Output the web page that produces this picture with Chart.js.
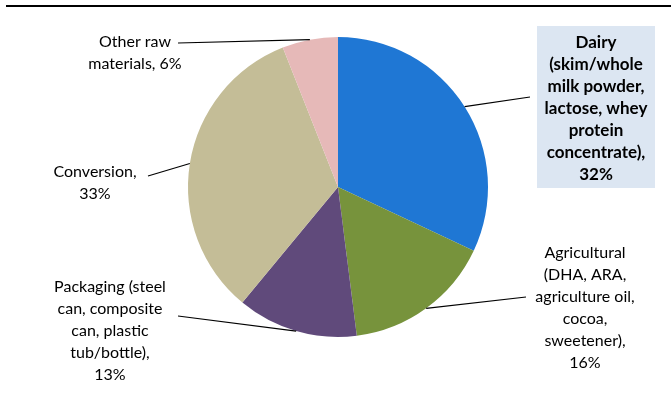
<!DOCTYPE html>
<html>
<head>
<meta charset="utf-8">
<script src="https://cdn.jsdelivr.net/npm/chart.js@4.4.1/dist/chart.umd.min.js"></script>
<style>
  html, body { margin: 0; padding: 0; background: #fff; }
  #wrap { width: 671px; height: 406px; position: relative; }
</style>
</head>
<body>
<div id="wrap"><canvas id="pie"></canvas></div>
<script>
// Dados do gráfico
const categorias = [
    ['Dairy', '(skim/whole', 'milk powder,', 'lactose, whey', 'protein', 'concentrate),'],
    ['Agricultural', '(DHA, ARA,', 'agriculture oil,', 'cocoa,', 'sweetener),'],
    ['Packaging (steel', 'can, composite', 'can, plastic', 'tub/bottle),'],
    ['Conversion,'],
    ['Other raw', 'materials,']
];
const valores = [32, 16, 13, 33, 6];
const cores = ['#1F77D4', '#77933C', '#604A7B', '#C4BD97', '#E6B9B8'];

// Posição dos rótulos (centro do bloco de texto, primeira linha) e onde a linha guia começa
const rotulos = [
    { x: 596, y: 43, lx: 530, ly: 97, bold: true, caixa: { x: 537, y: 26, w: 118, h: 162 } },
    { x: 585, y: 253, lx: 526, ly: 297 },
    { x: 110, y: 287, lx: 178, ly: 316 },
    { x: 95, y: 172, lx: 148, ly: 176 },
    { x: 135, y: 42, lx: 178, ly: 43 }
];

const fonte = '"Lato", "Open Sans", sans-serif';
const alturaLinha = 22;

const pluginRotulos = {
    id: 'rotulos',
    beforeDraw(chart) {
        const ctx = chart.ctx;
        ctx.save();
        // linha no topo
        ctx.strokeStyle = '#000';
        ctx.lineWidth = 2;
        ctx.beginPath();
        ctx.moveTo(6, 6);
        ctx.lineTo(671, 6);
        ctx.stroke();
        // caixa do rótulo Dairy
        rotulos.forEach(r => {
            if (r.caixa) {
                ctx.fillStyle = '#DCE6F2';
                ctx.fillRect(r.caixa.x, r.caixa.y, r.caixa.w, r.caixa.h);
            }
        });
        ctx.restore();
    },
    afterDraw(chart) {
        const ctx = chart.ctx;
        const meta = chart.getDatasetMeta(0);
        ctx.save();
        meta.data.forEach((arc, i) => {
            const r = rotulos[i];
            const ang = (arc.startAngle + arc.endAngle) / 2;
            const px = arc.x + Math.cos(ang) * arc.outerRadius;
            const py = arc.y + Math.sin(ang) * arc.outerRadius;
            // linha guia
            ctx.strokeStyle = '#000';
            ctx.lineWidth = 1.2;
            ctx.beginPath();
            ctx.moveTo(r.lx, r.ly);
            ctx.lineTo(px, py);
            ctx.stroke();
            // texto
            const linhas = categorias[i].slice();
            const pct = valores[i] + '%';
            if (i === 4) {
                linhas[1] = linhas[1] + ' ' + pct;
            } else {
                linhas.push(pct);
            }
            ctx.fillStyle = '#000';
            ctx.font = (r.bold ? 'bold 17px ' : '16px ') + fonte;
            ctx.textAlign = 'center';
            ctx.textBaseline = 'middle';
            linhas.forEach((t, k) => {
                ctx.fillText(t, r.x, r.y + k * alturaLinha);
            });
        });
        ctx.restore();
    }
};

new Chart(document.getElementById('pie'), {
    type: 'pie',
    data: {
        labels: categorias.map(c => c.join(' ')),
        datasets: [{
            data: valores,
            backgroundColor: cores,
            borderWidth: 0
        }]
    },
    options: {
        responsive: true,
        maintainAspectRatio: false,
        animation: false,
        layout: { padding: { left: 188, right: 183, top: 37, bottom: 69 } },
        plugins: {
            legend: { display: false },
            tooltip: { enabled: false }
        }
    },
    plugins: [pluginRotulos]
});
</script>
</body>
</html>
